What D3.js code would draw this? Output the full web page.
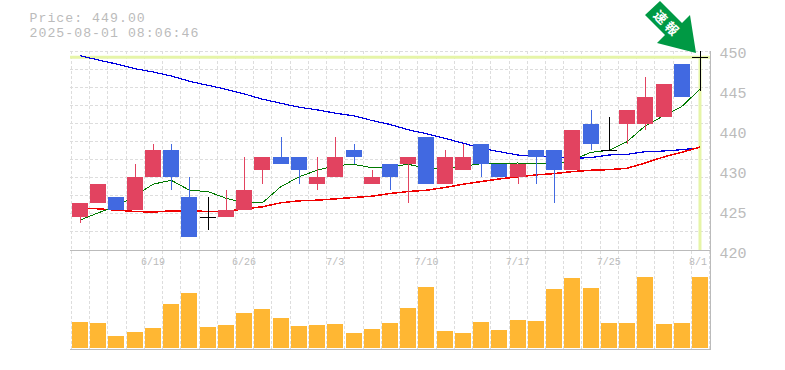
<!DOCTYPE html>
<html>
<head>
<meta charset="utf-8">
<script src="https://cdn.jsdelivr.net/npm/d3@7"></script>
<style>
html, body { margin: 0; padding: 0; background: #fff; overflow: hidden; }
text { font-family: "Liberation Mono", monospace; }
</style>
</head>
<body>
<svg class="chart"></svg>
<script>
// Chart data
const dates = ["6/13","6/16","6/17","6/18","6/19","6/20","6/23","6/24","6/25","6/26","6/27","6/30",
    "7/1","7/2","7/3","7/4","7/7","7/8","7/9","7/10","7/11","7/14","7/15","7/16","7/17","7/18",
    "7/22","7/23","7/24","7/25","7/28","7/29","7/30","7/31","8/1"];
const opens  = [425,427,428,426,431,435,428,425,425,426,432,434,434,430,431,435,430,433,433,437,430,432,436,433,431,435,435,432,439,435,439,439,440,448,449];
const closes = [427,430,426,431,435,431,422,425,426,429,434,433,432,431,434,434,431,431,434,430,434,434,433,431,433,434,432,438,436,435,441,443,445,443,449];
const highs  = [427,430,428,433,436,436,431,428,429,434,434,437,434,434,437,436,432,433,434,437,435,436,436,433,433,435,435,438,441,440,441,446,445,448,450];
const lows   = [424,427,426,426,431,429,422,423,425,426,430,433,430,429,431,433,430,429,427,430,430,432,431,431,430,430,427,432,435,435,436,438,440,443,444];
const maShort = [424.5,425.6,426.6,428.1,429.9,430.5,429.0,428.8,427.8,427.1,427.1,429.5,431.0,432.0,432.7,432.9,432.4,432.5,432.9,432.3,432.2,432.6,433.0,433.0,433.1,433.0,432.9,433.5,434.7,435.0,436.3,438.7,440.2,441.6,444.2];
const maMid   = [426.3,426.2,426.0,425.8,425.7,425.9,425.9,425.8,425.8,426.2,426.5,427.1,427.4,427.5,427.7,427.9,428.1,428.5,428.8,429.0,429.4,429.9,430.3,430.7,431.0,431.3,431.5,431.8,432.0,432.1,432.3,433.1,434.0,434.7,435.5];
const maLong  = [449.25,448.6,448.0,447.3,446.8,446.2,445.4,444.8,444.2,443.5,442.7,442.1,441.5,441.1,440.6,440.2,439.5,438.9,438.1,437.5,436.8,436.1,435.3,434.8,434.3,434.1,434.0,433.8,433.9,434.3,434.4,434.8,434.9,435.1,435.4];
const volumes = [26,25,12,16,20,44,55,21,23,35,39,30,22,23,24,15,19,25,40,61,17,15,26,18,28,27,59,70,60,25,25,71,24,25,71];
const priceTicks = ["450","445","440","430","425","420"];
const dateTicks = ["6/19","6/26","7/3","7/10","7/17","7/25","8/1"];
const lastPrice = 449;

const width = 785, height = 370;
const svg = d3.select(".chart").attr("width", width).attr("height", height).style("display", "block");

const plotLeft = 70, plotRight = 709, plotTop = 51, plotBottom = 250, volBottom = 349;

const idx = d3.range(dates.length);
const x = d3.scaleBand().domain(idx).range([plotLeft + 0.9, plotRight + 0.1]).paddingInner(0.122).paddingOuter(0.061);
const cx = i => x(i) + x.bandwidth() / 2;
const y = d3.scaleLinear().domain([420, 450]).range([plotBottom, plotTop - 0.3]);
const yVol = d3.scaleLinear().domain([0, 71]).range([volBottom - 1, volBottom - 72]);
const yLabel = d3.scalePoint().domain(priceTicks).range([53, 253]);

// Grid
const gridColor = "#ddd";
const gridX = idx.map(i => Math.round(x(i) - x.step() * 0.061) + 0.5).concat([plotRight + 0.5]);
svg.append("g").selectAll("line").data(gridX).enter().append("line")
    .attr("x1", d => d).attr("x2", d => d)
    .attr("y1", plotTop).attr("y2", volBottom)
    .attr("stroke", gridColor).attr("stroke-dasharray", "3,2");
svg.append("g").selectAll("line").data(d3.range(11)).enter().append("line")
    .attr("x1", plotLeft).attr("x2", plotRight + 1)
    .attr("y1", d => plotTop + 0.5 + d * 18).attr("y2", d => plotTop + 0.5 + d * 18)
    .attr("stroke", gridColor).attr("stroke-dasharray", "3,2");

// Frame
const frameColor = "#bbb";
const frame = [
    [plotLeft, plotBottom + 0.5, plotRight + 1, plotBottom + 0.5],
    [plotLeft, volBottom + 0.5, plotRight + 1, volBottom + 0.5],
    [plotRight + 1.5, plotTop, plotRight + 1.5, volBottom + 1]
];
svg.append("g").selectAll("line").data(frame).enter().append("line")
    .attr("x1", d => d[0]).attr("y1", d => d[1]).attr("x2", d => d[2]).attr("y2", d => d[3])
    .attr("stroke", frameColor);

// Last price marker
const hiColor = "#e6f5a8";
svg.append("line").attr("x1", plotLeft).attr("x2", plotRight + 1)
    .attr("y1", y(lastPrice)).attr("y2", y(lastPrice))
    .attr("stroke", hiColor).attr("stroke-width", 3);
svg.append("line").attr("x1", cx(34)).attr("x2", cx(34))
    .attr("y1", y(lastPrice)).attr("y2", plotBottom)
    .attr("stroke", hiColor).attr("stroke-width", 3);

// Moving averages, aliased like the original
const line = d3.line().x((d, i) => cx(i)).y(d => y(d));
const maLines = svg.append("g").attr("fill", "none").attr("shape-rendering", "crispEdges");
maLines.append("path").datum(maLong).attr("d", line).attr("stroke", "#0000e0").attr("stroke-width", 1.2);
maLines.append("path").datum(maMid).attr("d", line).attr("stroke", "#f00000").attr("stroke-width", 1.5);
maLines.append("path").datum(maShort).attr("d", line).attr("stroke", "#007a00").attr("stroke-width", 1);

// Candles
const candleColor = i => closes[i] > opens[i] ? "#e24360" : closes[i] < opens[i] ? "#4169e1" : "#000";
const candles = svg.append("g").attr("shape-rendering", "crispEdges");
candles.selectAll(".wick").data(idx).enter().append("line")
    .attr("class", "wick")
    .attr("x1", i => Math.round(cx(i)) + 0.5).attr("x2", i => Math.round(cx(i)) + 0.5)
    .attr("y1", i => y(highs[i])).attr("y2", i => y(lows[i]))
    .attr("stroke", candleColor);
candles.selectAll(".body").data(idx).enter().append("rect")
    .attr("class", "body")
    .attr("x", i => Math.round(x(i)))
    .attr("width", 16)
    .attr("y", i => y(Math.max(opens[i], closes[i])))
    .attr("height", i => Math.max(1, Math.abs(y(opens[i]) - y(closes[i]))))
    .attr("fill", candleColor);

// Volume
svg.append("g").attr("shape-rendering", "crispEdges").selectAll("rect").data(idx).enter().append("rect")
    .attr("x", i => Math.round(x(i)))
    .attr("width", 16)
    .attr("y", i => yVol(volumes[i]))
    .attr("height", i => yVol(0) - yVol(volumes[i]))
    .attr("fill", "#ffb733");

// Tick labels
svg.append("g").selectAll("text").data(priceTicks).enter().append("text")
    .attr("x", 719.5).attr("y", d => yLabel(d) + 4.5)
    .attr("font-size", 15).attr("fill", "#bbb")
    .text(d => d);
svg.append("g").selectAll("text").data(dateTicks).enter().append("text")
    .attr("x", d => Math.min(cx(dates.indexOf(d)), 698)).attr("y", 265)
    .attr("text-anchor", "middle")
    .attr("font-size", 10).attr("fill", "#bbb")
    .text(d => d);

// Header: smaller font spaced out, so the two rows keep the original width and pitch
const header = svg.append("g").attr("font-size", 13.2).attr("letter-spacing", 1.03).attr("fill", "#bbb");
header.append("text").attr("x", 29.5).attr("y", 22).text("Price: " + lastPrice.toFixed(2));
header.append("text").attr("x", 29.5).attr("y", 37).text("2025-08-01 08:06:46");

// Arrow badge
svg.append("path")
    .attr("d", "M660,1 L682,23 L690,15 L696,53 L657,43 L665,35 L645,15 Z")
    .attr("fill", "#009944");
svg.append("text")
    .attr("transform", "translate(667,24) rotate(45)")
    .attr("text-anchor", "middle").attr("dy", "0.35em")
    .attr("font-size", 13).attr("font-weight", "bold").attr("fill", "#fff")
    .style("font-family", "'Noto Sans CJK JP'")
    .style("letter-spacing", "3px")
    .text("速報");
</script>
</body>
</html>
